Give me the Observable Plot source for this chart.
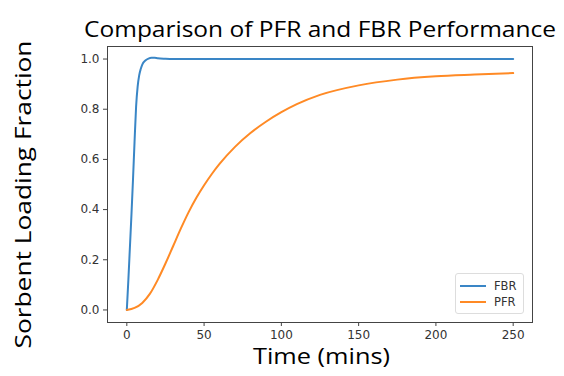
<!DOCTYPE html>
<html>
<head>
<meta charset="utf-8">
<script src="https://cdn.jsdelivr.net/npm/d3@7"></script>
<script src="https://cdn.jsdelivr.net/npm/@observablehq/plot@0.6"></script>
<style>
  html, body { margin: 0; padding: 0; background: #fff; }
  #wrap { position: relative; width: 564px; height: 376px; }
  #legend { position: absolute; left: 455px; top: 273px; width: 69px; height: 41px;
    border: 1px solid #ddd; border-radius: 3px; background: rgba(255,255,255,0.85);
    font: 11.5px "DejaVu Sans", sans-serif; color: #333; box-sizing: border-box; }
  .item { position: absolute; left: 4px; display: flex; align-items: center; }
  .sw { width: 26px; height: 2px; margin-right: 8px; }
</style>
</head>
<body>
<div id="wrap"></div>
<script>
const seriesNames = ["FBR", "PFR"];
const colors = ["#3a86c6", "#ff8a25"];

const fbrTime  = [0, 1, 2, 3, 4, 5, 6, 7, 8, 9, 10, 12, 14, 16, 18, 20, 25, 30, 50, 100, 150, 200, 250];
const fbrValue = [0, 0.12, 0.25, 0.38, 0.52, 0.67, 0.81, 0.89, 0.935, 0.96, 0.978, 0.994, 1.002, 1.005, 1.005, 1.003, 1.001, 1.0, 1.0, 1.0, 1.0, 1.0, 1.0];

const pfrTime  = [0, 5, 10, 15, 20, 25, 30, 35, 40, 45, 50, 55, 60, 70, 80, 90, 100, 110, 125, 150, 175, 200, 225, 250];
const pfrValue = [0, 0.008, 0.028, 0.065, 0.12, 0.185, 0.255, 0.325, 0.39, 0.447, 0.497, 0.542, 0.582, 0.65, 0.705, 0.75, 0.788, 0.82, 0.857, 0.895, 0.918, 0.931, 0.938, 0.944];

const xTicks = [0, 50, 100, 150, 200, 250];
const yTicks = [0, 0.2, 0.4, 0.6, 0.8, 1.0];

const title = "Comparison of PFR and FBR Performance";
const xLabel = "Time (mins)";
const yLabel = "Sorbent Loading Fraction";

const rows = [
  ...fbrTime.map((t, i) => ({series: seriesNames[0], t, v: fbrValue[i]})),
  ...pfrTime.map((t, i) => ({series: seriesNames[1], t, v: pfrValue[i]}))
];

const labelFont = "'Open Sans', sans-serif";

const chart = Plot.plot({
  width: 564,
  height: 376,
  marginLeft: 107,
  marginRight: 32,
  marginTop: 46,
  marginBottom: 54,
  style: {fontFamily: "'DejaVu Sans', sans-serif", background: "#fff"},
  x: {domain: [-12.5, 262.5]},
  y: {domain: [-0.05, 1.05]},
  color: {domain: seriesNames, range: colors},
  marks: [
    Plot.frame({stroke: "#444", strokeWidth: 1}),
    Plot.axisX({ticks: xTicks, tickSize: 4, tickPadding: 4, fontSize: 12, stroke: "#444", color: "#333", label: null, tickFormat: d3.format("d")}),
    Plot.axisY({ticks: yTicks, tickSize: 4, tickPadding: 4, fontSize: 12, stroke: "#444", color: "#333", label: null, tickFormat: d3.format(".1f")}),
    Plot.line(rows, {x: "t", y: "v", z: "series", stroke: "series", strokeWidth: 2, curve: "monotone-x"}),
    Plot.text([title], {text: d => d, frameAnchor: "top", textAnchor: "middle", dx: 0, dy: -25, fontSize: 21.5, fontFamily: labelFont, fill: "#000"}),
    Plot.text([xLabel], {text: d => d, frameAnchor: "bottom", textAnchor: "middle", dx: 1.5, dy: 41, fontSize: 21.5, fontFamily: labelFont, fill: "#000"}),
    Plot.text([yLabel], {text: d => d, frameAnchor: "left", textAnchor: "middle", rotate: -90, dx: -83, dy: 10, fontSize: 21.5, fontFamily: labelFont, fill: "#000"})
  ]
});

const wrap = document.getElementById("wrap");
wrap.appendChild(chart);

// fit label widths to the reference
const widths = {[title]: 472, [xLabel]: 137, [yLabel]: 308};
d3.select(chart).selectAll("text").each(function() {
  const t = this.textContent;
  if (widths[t]) {
    this.setAttribute("textLength", widths[t]);
    this.setAttribute("lengthAdjust", "spacingAndGlyphs");
  }
});

const legend = document.createElement("div");
legend.id = "legend";
seriesNames.forEach((name, i) => {
  const item = document.createElement("div");
  item.className = "item";
  item.style.top = (5 + i * 16) + "px";
  const sw = document.createElement("span");
  sw.className = "sw";
  sw.style.background = colors[i];
  const lab = document.createElement("span");
  lab.textContent = name;
  item.appendChild(sw);
  item.appendChild(lab);
  legend.appendChild(item);
});
wrap.appendChild(legend);
</script>
</body>
</html>
